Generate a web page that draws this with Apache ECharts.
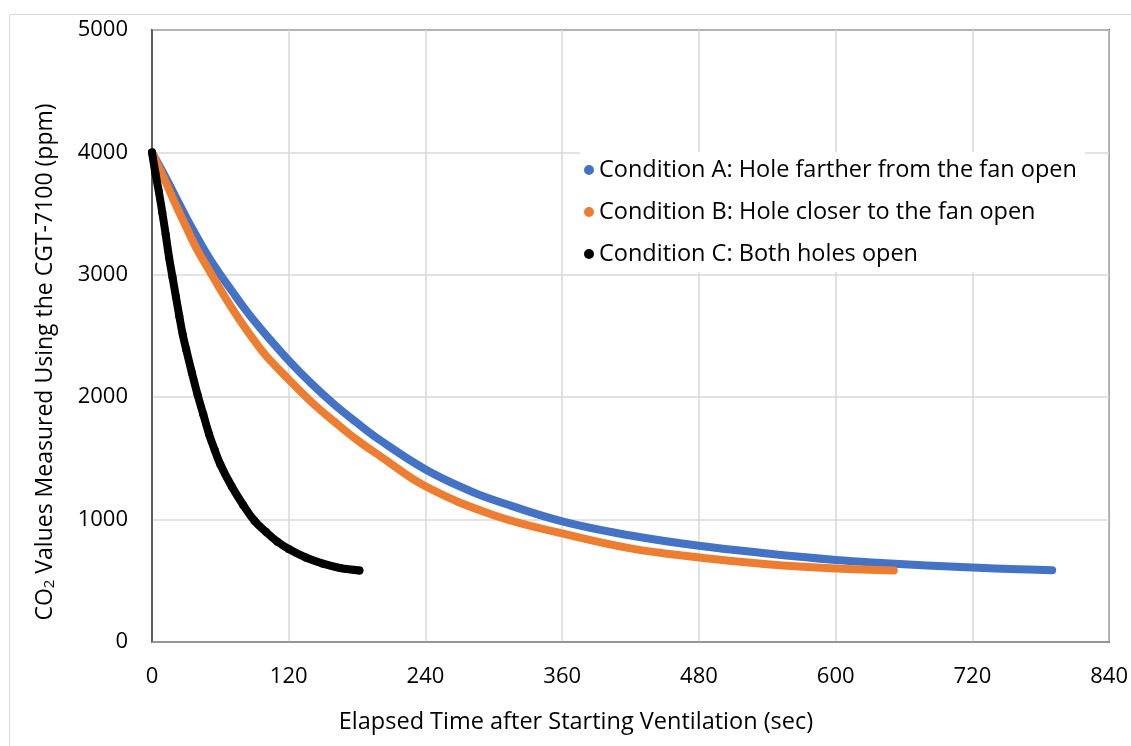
<!DOCTYPE html>
<html>
<head>
<meta charset="utf-8">
<script src="https://cdn.jsdelivr.net/npm/echarts@6/dist/echarts.min.js"></script>
<style>
  html,body{margin:0;padding:0;background:#fff;}
  #chart{width:1131px;height:746px;}
</style>
</head>
<body>
<div id="chart"></div>
<script>
// values: [seconds, ppm]
const condA = [[0,4000],[10,3830],[20,3650],[30,3470],[40,3300],[50,3140],[60,3000],[70,2870],[80,2740],[90,2620],[100,2510],[120,2300],[140,2110],[160,1940],[180,1790],[200,1650],[240,1410],[280,1230],[300,1160],[360,985],[420,870],[480,786],[540,723],[600,670],[640,645],[680,625],[720,608],[760,595],[790,587]];
const condB = [[0,4000],[10,3800],[20,3590],[30,3390],[40,3200],[50,3040],[60,2880],[70,2730],[80,2590],[90,2460],[100,2340],[120,2145],[140,1960],[160,1800],[180,1650],[200,1520],[240,1272],[300,1036],[360,887],[420,765],[480,691],[540,636],[600,601],[651,585]];
const condC = [[0,4000],[3,3830],[6,3680],[9,3510],[12,3330],[15,3140],[18,2980],[21,2820],[24,2660],[27,2510],[30,2390],[35,2200],[40,2020],[45,1860],[50,1700],[55,1570],[60,1450],[70,1270],[80,1120],[90,990],[100,900],[110,820],[120,760],[135,690],[150,640],[165,605],[182,585]];

const seriesNames = ['Condition A: Hole farther from the fan open','Condition B: Hole closer to the fan open','Condition C: Both holes open'];
const seriesColors = ['#4472C4','#ED7D31','#000000'];
const xTitle = 'Elapsed Time after Starting Ventilation (sec)';
const yTitle = 'CO{sub|2} Values Measured Using the CGT-7100 (ppm)';

const font = '"Open Sans", "Noto Sans", sans-serif';
const chart = echarts.init(document.getElementById('chart'));

const mkSeries = (name, data, color, dots) => ({
  name: name,
  type: 'line',
  data: data,
  smooth: 0.4,
  showSymbol: dots,
  symbol: 'circle',
  symbolSize: 8,
  itemStyle: { color: color },
  lineStyle: { color: color, width: 8, cap: 'round', join: 'round' },
  emphasis: { disabled: true },
  animation: false
});

chart.setOption({
  animation: false,
  textStyle: { fontFamily: font },
  grid: {
    left: 152, right: 21, top: 30, bottom: 104,
    show: true, borderColor: '#000', borderWidth: 1.5
  },
  legend: {
    orient: 'vertical',
    left: 580, top: 152,
    backgroundColor: '#fff',
    padding: [4, 8, 4, 4],
    itemGap: 14,
    itemWidth: 10, itemHeight: 10,
    icon: 'circle',
    textStyle: { fontSize: 23.5, lineHeight: 28, color: '#000', fontFamily: font },
    data: seriesNames
  },
  xAxis: {
    type: 'value', min: 0, max: 840, interval: 120,
    axisLine: { show: true, onZero: false, lineStyle: { color: '#8c8c8c', width: 1.5 } },
    axisTick: { show: false },
    axisLabel: { fontSize: 22, color: '#000', margin: 24 },
    splitLine: { lineStyle: { color: '#d9d9d9', width: 1.5 } }
  },
  yAxis: {
    type: 'value', min: 0, max: 5000, interval: 1000,
    axisLine: { show: true, lineStyle: { color: '#404040', width: 1.5 } },
    axisTick: { show: false },
    axisLabel: { fontSize: 22, color: '#000', margin: 24, formatter: v => String(v) },
    splitLine: { lineStyle: { color: '#d9d9d9', width: 1.5 } }
  },
  graphic: [
    { type: 'rect', left: 7, top: 12, z: -10, silent: true,
      shape: { width: 1140, height: 760 },
      style: { fill: 'none', stroke: '#d9d9d9', lineWidth: 1 } },
    { type: 'text', x: 576, y: 722, silent: true,
      style: { text: xTitle, fontSize: 23.5, fill: '#000', fontFamily: font, align: 'center', verticalAlign: 'middle' } },
    { type: 'text', x: 45, y: 362, rotation: Math.PI / 2, silent: true,
      style: { text: yTitle, fontSize: 23, fill: '#000', fontFamily: font, align: 'center', verticalAlign: 'middle',
        rich: { sub: { fontSize: 15, verticalAlign: 'bottom', padding: [9, 0, 0, 0], fontFamily: font } } } }
  ],
  series: [
    mkSeries(seriesNames[0], condA, seriesColors[0], false),
    mkSeries(seriesNames[1], condB, seriesColors[1], false),
    mkSeries(seriesNames[2], condC, seriesColors[2], true)
  ]
});
</script>
</body>
</html>
